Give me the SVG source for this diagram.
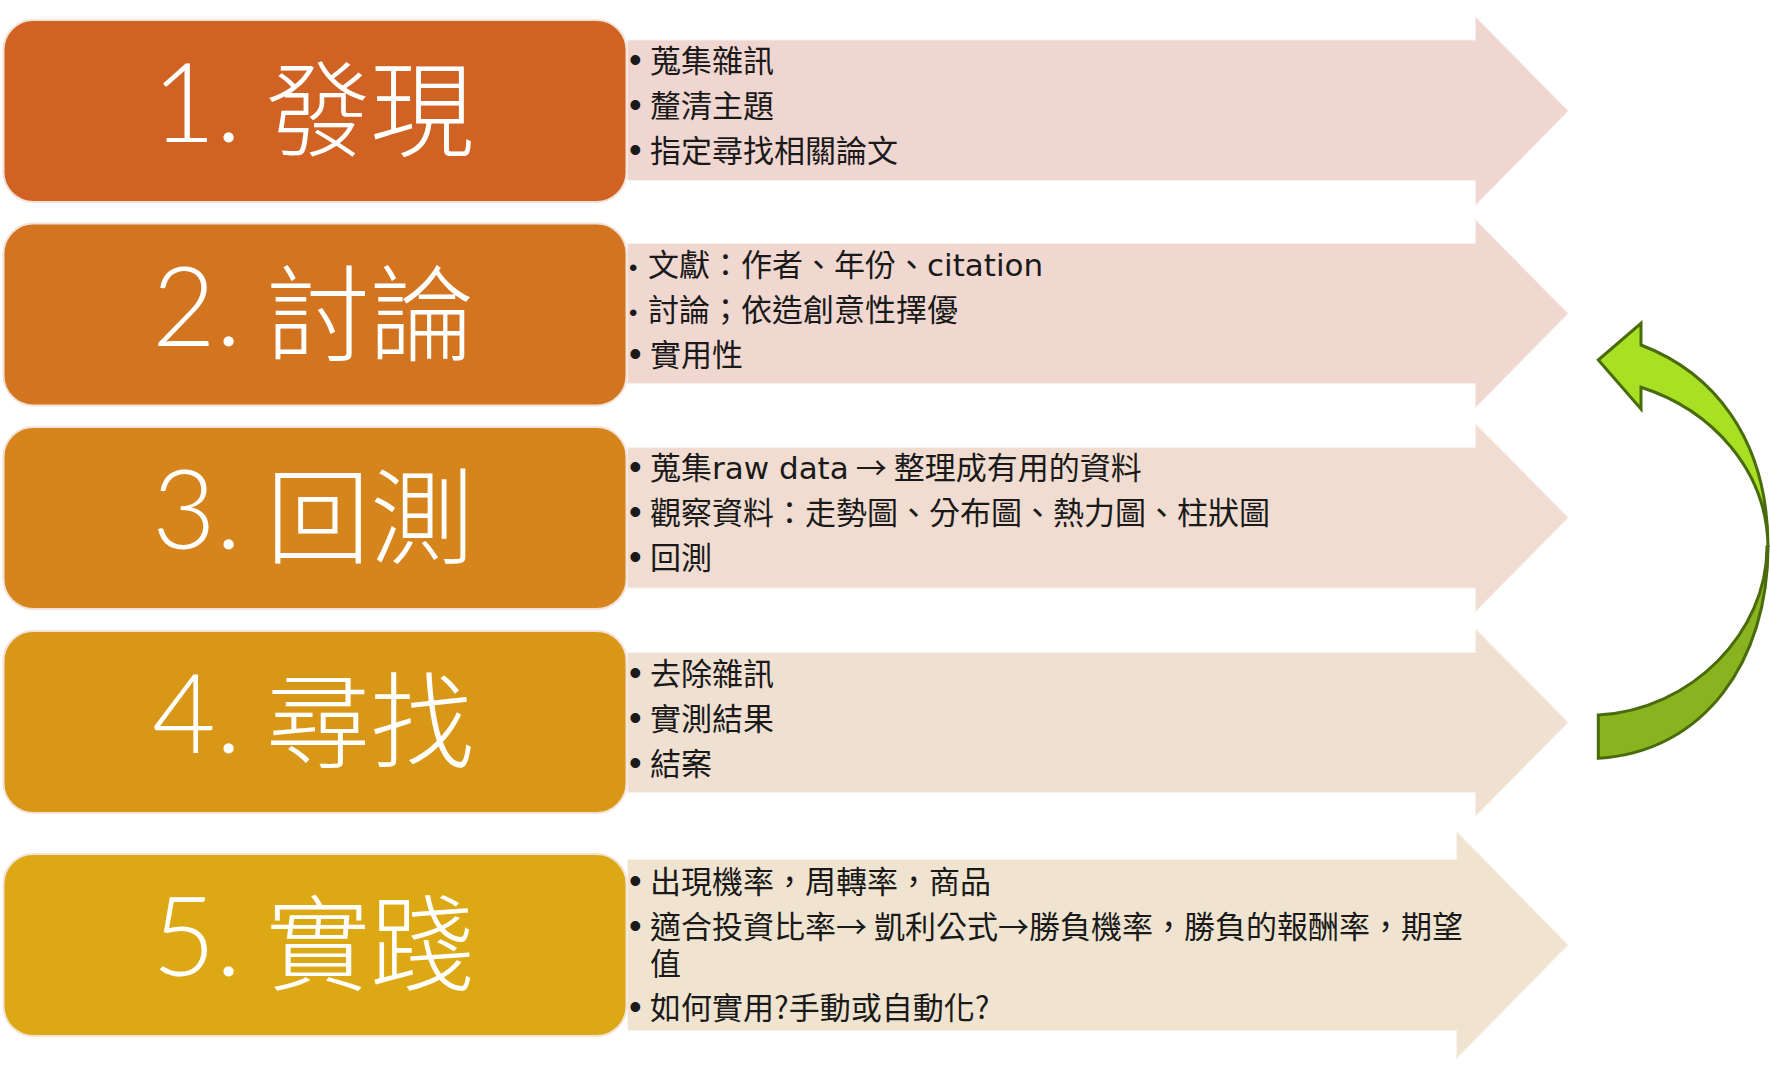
<svg xmlns="http://www.w3.org/2000/svg" width="1770" height="1081" viewBox="0 0 1770 1081">
  <style>
    .box { stroke: #f3e2d8; stroke-width: 2; }
    .arr { stroke: #ffffff; stroke-opacity: 0.6; stroke-width: 2; }
    .title { font-family: Lato, 'Liberation Sans', sans-serif; font-size: 110px; font-weight: 300; fill: #ffffff; }
    .tc { font-family: 'Noto Sans CJK TC', sans-serif; font-size: 104px; font-weight: 300; }
    .t { font-family: 'Noto Sans CJK TC', sans-serif; font-size: 31px; fill: #1a1a1a; }
    .lat { font-family: 'DejaVu Sans', sans-serif; }
    .b { font-family: 'Liberation Sans', sans-serif; font-size: 36px; }
    .bs { font-family: 'Liberation Sans', sans-serif; font-size: 24px; }
    .g { stroke: #4a6b0b; stroke-width: 3; stroke-linejoin: miter; }
  </style>
  <rect width="1770" height="1081" fill="#ffffff"/>

  <g id="connectors">
    <g id="cycle-arrow">
      <path class="g" fill="#89b420" d="M1768,547 C1768,660 1705,752 1598.3,758.3 L1598.3,715 C1692,710 1767,632 1767,547 Z"/>
      <path class="g" fill="#a8e024" d="M1598.3,360 L1641,323.3 L1641,345 C1712,372 1768,437 1768,547 C1767,470 1712,410 1641,387.3 L1641,409 Z"/>
    </g>
  </g>

  <g id="step1">
    <path class="arr" fill="#f0d6d0" d="M627,39.5 H1475 V15.5 L1569,111 L1475,206.5 V181 H627 Z"/>
    <rect class="box" x="3.5" y="20" width="623" height="182" rx="30" fill="#d06323"/>
    <text class="title" x="152" y="142">1.<tspan class="tc" x="266" dy="7">發現</tspan></text>
    <text class="t" y="72"><tspan class="b" x="629">•</tspan><tspan x="650">蒐集雜訊</tspan></text>
    <text class="t" y="117"><tspan class="b" x="629">•</tspan><tspan x="650">釐清主題</tspan></text>
    <text class="t" y="162"><tspan class="b" x="629">•</tspan><tspan x="650">指定尋找相關論文</tspan></text>
  </g>

  <g id="step2">
    <path class="arr" fill="#f0d8d0" d="M627,243 H1475 V218.5 L1569,313.5 L1475,409 V384 H627 Z"/>
    <rect class="box" x="3.5" y="223.5" width="623" height="182" rx="30" fill="#d27420"/>
    <text class="title" x="152" y="345.5">2.<tspan class="tc" x="266" dy="7">討論</tspan></text>
    <text class="t" y="276"><tspan class="bs" x="629">•</tspan><tspan x="648">文獻：作者、年份、</tspan><tspan class="lat">citation</tspan></text>
    <text class="t" y="321"><tspan class="bs" x="629">•</tspan><tspan x="648">討論；依造創意性擇優</tspan></text>
    <text class="t" y="366"><tspan class="b" x="629">•</tspan><tspan x="650">實用性</tspan></text>
  </g>

  <g id="step3">
    <path class="arr" fill="#f0dcd0" d="M627,447 H1475 V422.5 L1569,517.5 L1475,613 V588.5 H627 Z"/>
    <rect class="box" x="3.5" y="427" width="623" height="182" rx="30" fill="#d5851c"/>
    <text class="title" x="152" y="549">3.<tspan class="tc" x="266" dy="7">回測</tspan></text>
    <text class="t" y="479"><tspan class="b" x="629">•</tspan><tspan x="650">蒐集</tspan><tspan class="lat">raw data</tspan> → 整理成有用的資料</text>
    <text class="t" y="524"><tspan class="b" x="629">•</tspan><tspan x="650">觀察資料：走勢圖、分布圖、熱力圖、柱狀圖</tspan></text>
    <text class="t" y="569"><tspan class="b" x="629">•</tspan><tspan x="650">回測</tspan></text>
  </g>

  <g id="step4">
    <path class="arr" fill="#f0e0d1" d="M627,652 H1475 V627.5 L1569,722.5 L1475,817.5 V793 H627 Z"/>
    <rect class="box" x="3.5" y="631" width="623" height="182" rx="30" fill="#d99717"/>
    <text class="title" x="152" y="753">4.<tspan class="tc" x="266" dy="7">尋找</tspan></text>
    <text class="t" y="685"><tspan class="b" x="629">•</tspan><tspan x="650">去除雜訊</tspan></text>
    <text class="t" y="730"><tspan class="b" x="629">•</tspan><tspan x="650">實測結果</tspan></text>
    <text class="t" y="775"><tspan class="b" x="629">•</tspan><tspan x="650">結案</tspan></text>
  </g>

  <g id="step5">
    <path class="arr" fill="#f0e4d0" d="M627,859 H1456 V830 L1569,945 L1456,1060 V1031 H627 Z"/>
    <rect class="box" x="3.5" y="854" width="623" height="182" rx="30" fill="#dca914"/>
    <text class="title" x="152" y="976">5.<tspan class="tc" x="266" dy="7">實踐</tspan></text>
    <text class="t" y="893"><tspan class="b" x="629">•</tspan><tspan x="650">出現機率，周轉率，商品</tspan></text>
    <text class="t" y="938"><tspan class="b" x="629">•</tspan><tspan x="650">適合投資比率→ 凱利公式→勝負機率，勝負的報酬率，期望</tspan></text>
    <text class="t" y="975"><tspan x="650">值</tspan></text>
    <text class="t" y="1019"><tspan class="b" x="629">•</tspan><tspan x="650">如何實用?手動或自動化?</tspan></text>
  </g>
</svg>
